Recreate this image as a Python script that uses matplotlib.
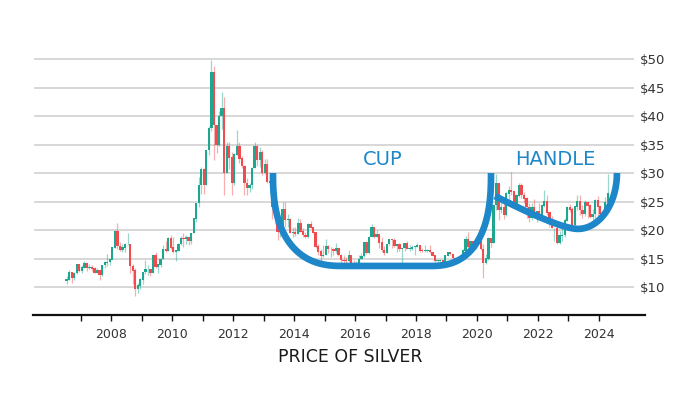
import numpy as np
import pandas as pd
import matplotlib
matplotlib.use("Agg")
import matplotlib.pyplot as plt

# monthly silver candles, Jul 2006 .. Apr 2024
first_open = 11.0
close = [11.3, 12.6, 11.6, 12.4, 13.9, 12.9,
         13.4, 14.1, 13.3, 13.4, 13.2, 12.5, 12.9, 12.1, 13.8, 14.3, 14.4, 14.8,
         16.9, 19.8, 17.2, 16.5, 16.9, 17.5, 17.5, 13.7, 12.9, 9.6, 10.2, 11.3,
         12.6, 13.1, 13.1, 12.5, 15.6, 13.6, 13.9, 14.9, 16.6, 16.3, 18.6, 16.9,
         16.2, 16.4, 17.5, 18.6, 18.4, 18.7, 18.0, 19.4, 22.0, 24.7, 27.9, 30.6,
         27.9, 34.0, 37.9, 47.6, 38.4, 35.0, 40.0, 41.4, 30.0, 34.6, 32.7, 28.2,
         33.2, 34.6, 32.5, 31.2, 28.2, 27.4, 27.9, 30.8, 34.6, 32.3, 33.6, 30.0,
         31.5, 28.5, 28.3, 24.1, 22.3, 19.7, 19.8, 23.6, 21.7, 21.9, 19.5, 19.5,
         19.3, 21.2, 19.7, 19.1, 18.8, 21.0, 20.4, 19.5, 17.1, 16.2, 15.5, 15.6,
         17.2, 16.6, 16.6, 16.3, 16.8, 15.6, 14.7, 14.6, 14.5, 15.5, 14.1, 13.8,
         14.0, 14.9, 15.4, 17.8, 16.0, 18.7, 20.4, 18.7, 19.2, 17.8, 16.5, 15.9,
         17.5, 18.4, 18.2, 17.2, 17.4, 16.6, 16.8, 17.6, 16.7, 16.7, 17.0, 17.1,
         17.3, 16.4, 16.3, 16.4, 16.4, 16.1, 15.5, 14.5, 14.6, 14.7, 14.2, 15.5,
         16.1, 15.8, 15.1, 15.0, 14.6, 15.3, 16.4, 18.4, 17.0, 18.0, 17.0, 17.9,
         18.0, 16.6, 14.2, 15.0, 18.6, 17.8, 24.4, 28.2, 23.5, 23.9, 22.6, 26.4,
         26.9, 26.7, 24.5, 26.0, 27.9, 26.1, 25.5, 24.0, 22.1, 24.0, 23.0, 23.3,
         22.4, 24.3, 25.1, 23.0, 21.6, 20.3, 20.3, 17.8, 19.0, 19.1, 21.6, 23.9,
         23.6, 20.8, 24.1, 25.0, 23.5, 22.8, 24.9, 24.3, 22.3, 22.8, 25.2, 24.1,
         22.9, 22.7, 24.9, 26.5]
high = [11.9, 13.0, 12.7, 12.6, 14.1, 14.0,
        13.8, 14.6, 14.2, 14.1, 13.8, 13.5, 13.3, 13.0, 13.9, 14.6, 15.8, 15.0,
        17.1, 20.0, 21.3, 17.9, 17.6, 17.7, 19.5, 17.6, 14.1, 13.3, 10.8, 11.6,
        12.7, 14.7, 13.8, 13.2, 15.7, 16.2, 14.1, 15.0, 17.4, 18.0, 18.8, 19.2,
        18.8, 16.5, 17.7, 18.9, 19.5, 19.2, 18.7, 19.5, 22.1, 24.8, 29.3, 31.0,
        30.8, 34.1, 38.2, 49.8, 48.7, 38.4, 40.9, 44.2, 43.4, 35.5, 35.5, 33.7,
        33.6, 37.5, 35.4, 33.0, 31.4, 29.2, 28.3, 31.1, 35.4, 35.0, 34.5, 34.1,
        32.5, 32.4, 29.4, 28.5, 25.0, 22.6, 20.4, 25.0, 25.0, 22.8, 22.2, 20.6,
        20.6, 22.1, 21.9, 20.4, 19.6, 21.2, 21.6, 20.5, 19.5, 17.6, 16.6, 17.3,
        18.5, 17.3, 17.1, 16.8, 17.8, 16.9, 15.8, 15.6, 15.2, 16.5, 15.6, 14.7,
        14.5, 15.7, 15.9, 17.8, 18.1, 18.9, 21.1, 20.6, 20.0, 19.2, 18.7, 17.2,
        17.6, 18.5, 18.4, 18.6, 17.6, 17.8, 16.9, 17.8, 18.0, 17.3, 17.4, 17.2,
        17.7, 17.4, 16.8, 17.4, 16.7, 17.3, 16.1, 15.6, 14.7, 14.9, 14.8, 15.6,
        16.2, 16.2, 15.7, 15.2, 15.0, 15.5, 16.6, 19.0, 19.7, 18.1, 18.0, 18.1,
        18.9, 18.8, 17.6, 15.8, 18.7, 18.4, 24.6, 29.9, 28.0, 25.6, 25.4, 26.7,
        27.7, 30.1, 26.8, 26.4, 28.3, 28.3, 26.7, 25.8, 24.8, 24.8, 25.4, 23.4,
        24.7, 24.5, 27.0, 26.2, 23.1, 22.5, 20.4, 20.9, 19.9, 21.2, 22.2, 24.3,
        24.6, 24.0, 24.2, 26.1, 26.1, 24.4, 25.3, 25.0, 24.5, 23.7, 25.5, 26.0,
        24.2, 23.4, 25.8, 29.9]
low = [10.6, 11.2, 10.8, 11.2, 12.3, 12.6,
       12.4, 13.3, 12.8, 13.2, 12.9, 12.4, 12.5, 11.2, 12.0, 13.3, 13.7, 13.8,
       14.9, 16.9, 16.6, 16.3, 16.1, 16.2, 17.3, 12.4, 10.5, 8.5, 8.9, 9.7,
       10.5, 12.3, 12.1, 11.9, 12.4, 13.3, 12.5, 13.6, 14.9, 16.1, 16.3, 16.7,
       16.0, 14.6, 16.3, 17.4, 17.0, 17.6, 17.3, 17.6, 19.4, 21.4, 24.0, 26.4,
       26.3, 27.9, 33.1, 37.4, 32.3, 33.5, 34.7, 37.8, 26.1, 30.1, 30.7, 26.1,
       27.9, 33.2, 31.7, 30.9, 26.1, 26.1, 26.7, 27.2, 30.8, 31.2, 31.0, 29.6,
       29.8, 28.2, 27.9, 22.0, 21.1, 18.2, 18.7, 19.5, 20.6, 20.6, 19.4, 18.8,
       19.0, 19.3, 19.6, 18.8, 18.6, 18.6, 20.3, 19.4, 16.9, 15.7, 14.4, 15.3,
       15.6, 16.0, 15.3, 15.6, 16.0, 15.5, 14.3, 14.3, 14.2, 14.4, 13.9, 13.6,
       13.6, 13.9, 14.9, 15.3, 15.8, 15.8, 18.7, 18.6, 18.7, 16.8, 16.1, 15.6,
       15.9, 17.4, 16.8, 17.0, 16.2, 16.4, 14.3, 16.3, 16.6, 16.4, 16.5, 15.6,
       17.0, 16.2, 16.2, 16.2, 16.1, 16.0, 15.4, 14.4, 13.9, 14.2, 13.9, 14.2,
       15.4, 15.6, 14.9, 14.6, 14.3, 14.5, 15.0, 16.2, 16.9, 17.0, 16.6, 16.6,
       17.6, 16.5, 11.6, 14.0, 14.8, 17.1, 17.8, 23.6, 21.7, 23.0, 21.9, 22.5,
       24.5, 26.2, 23.8, 24.5, 25.8, 25.7, 24.8, 22.2, 21.4, 21.7, 22.6, 21.4,
       22.0, 22.0, 24.0, 22.6, 20.5, 20.3, 18.1, 17.6, 17.6, 18.1, 18.8, 21.6,
       23.1, 20.7, 19.9, 23.6, 22.7, 22.1, 22.5, 22.2, 22.1, 20.7, 22.2, 22.5,
       22.0, 21.9, 22.5, 24.8]

dates = pd.date_range("2006-07-01", periods=len(close), freq="MS")
price_ticks = [10, 15, 20, 25, 30, 35, 40, 45, 50]
year_ticks = [2008, 2010, 2012, 2014, 2016, 2018, 2020, 2022, 2024]

# cup and handle outline anchors (decimal year, price)
cup_x = [2013.31, 2015.61, 2018.46, 2020.46]
cup_top, cup_bottom = 30.0, 13.7
handle_start = (2020.59, 25.96)
handle_ctrl = (2022.72, 20.2)
handle_bottom = (2023.31, 20.2)
handle_right = 2024.59

GREEN = "#1ea68e"
RED = "#f04c4f"
BLUE = "#1d87c9"

x = dates.year + (dates.month - 0.5) / 12.0
c = np.array(close)
o = np.array([first_open] + close[:-1])
h = np.array(high)
l = np.array(low)
up = c >= o
col = np.where(up, GREEN, RED)

fig = plt.figure(figsize=(7, 3.94), dpi=100)
ax = fig.add_axes([33 / 700, 1 - 315 / 394, 612 / 700, 267.4 / 394])
ax.set_xlim(2005.44, 2025.51)
ax.set_ylim(5.1, 52)

for v in price_ticks:
    ax.axhline(v, xmin=0.003, xmax=0.98, color="#d4d4d4", lw=1.3, zorder=0)

ax.vlines(x, l, h, colors=col, lw=0.9, alpha=0.45, zorder=2)
ax.bar(x, np.abs(c - o) + 0.08, bottom=np.minimum(o, c), width=0.075,
       color=col, zorder=3, linewidth=0)

# cup: left wall + round, flat bottom, round + right wall
p = 0.8
t = np.linspace(0, np.pi / 2, 60)
rx1 = cup_x[1] - cup_x[0]
rx2 = cup_x[3] - cup_x[2]
ry = cup_top - cup_bottom
lx = cup_x[1] - rx1 * np.cos(t) ** p
ly = cup_top - ry * np.sin(t) ** p
rxs = cup_x[2] + rx2 * np.sin(t) ** p
rys = cup_top - ry * np.cos(t) ** p
cx = np.concatenate([lx, rxs])
cy = np.concatenate([ly, rys])
ax.plot(cx, cy, color=BLUE, lw=4.8, solid_capstyle="butt",
        solid_joinstyle="round", zorder=5)

# handle: sloped lead-in (quadratic bezier) then round up to the right
s = np.linspace(0, 1, 40)[:, None]
P0, P1, P2 = np.array(handle_start), np.array(handle_ctrl), np.array(handle_bottom)
bz = (1 - s) ** 2 * P0 + 2 * (1 - s) * s * P1 + s ** 2 * P2
hrx = handle_right - handle_bottom[0]
hry = cup_top - handle_bottom[1]
hx = handle_bottom[0] + hrx * np.sin(t)
hy = cup_top - hry * np.cos(t)
ax.plot(np.concatenate([bz[:, 0], hx]), np.concatenate([bz[:, 1], hy]),
        color=BLUE, lw=4.8, solid_capstyle="butt", zorder=5)

ax.text(2016.92, 32.3, "CUP", color=BLUE,
        fontsize=14, ha="center", va="center", family="DejaVu Sans")
ax.text(2022.56, 32.3, "HANDLE", color=BLUE, fontsize=14,
        ha="center", va="center", family="DejaVu Sans")

for sp in ["top", "right", "left"]:
    ax.spines[sp].set_visible(False)
ax.spines["bottom"].set_linewidth(1.6)
ax.spines["bottom"].set_color("#111111")

ax.set_xticks(year_ticks)
ax.set_xticklabels([str(y) for y in year_ticks])
ax.set_xticks([y + 1 for y in year_ticks[:-1]] + [2007], minor=True)
ax.tick_params(axis="x", which="both", length=4, width=1, color="#111111",
               labelsize=9, labelcolor="#333333", pad=5)

ax.yaxis.tick_right()
ax.set_yticks(price_ticks)
ax.set_yticklabels(["$%d" % v for v in price_ticks])
ax.tick_params(axis="y", length=0, labelsize=9.5, labelcolor="#333333", pad=-4)

fig.text(0.5, 1 - 357 / 394, "PRICE OF SILVER", ha="center", va="center",
         fontsize=12.5, color="#1a1a1a")

fig.savefig("out.png", dpi=100)
